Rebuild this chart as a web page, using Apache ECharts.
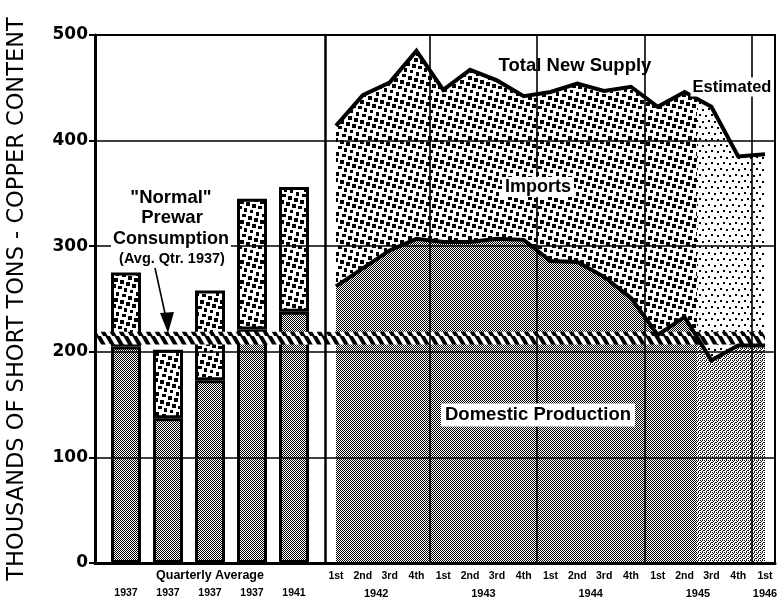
<!DOCTYPE html>
<html><head><meta charset="utf-8">
<script src="https://cdn.jsdelivr.net/npm/echarts/dist/echarts.min.js"></script>
<style>html,body{margin:0;padding:0;background:#fff}#c{width:778px;height:602px}</style>
</head><body><div id="c"></div>
<script>
// ---------------- data ----------------
const barLabels = ['1937', '1937', '1937', '1937', '1941'];
const barGroupLabels = ['', '', 'Quarterly Average', '', ''];
const barDomestic = [205, 137, 173, 221, 238];
const barTotal = [275, 202, 258, 345, 356];

const quarterLabels = ['1st','2nd','3rd','4th','1st','2nd','3rd','4th','1st','2nd','3rd','4th','1st','2nd','3rd','4th','1st'];
const yearLabels = ['1942', '1943', '1944', '1945', '1946'];
const yearLabelPos = [1.5, 5.5, 9.5, 13.5, 16];
const yearBoundaries = [3.5, 7.5, 11.5, 15.5];
const totalSupply = [414, 443, 455, 485, 448, 467, 457, 442, 446, 454, 447, 451, 432, 446, 432, 385, 387];
const domesticProd = [262, 279, 296, 307, 304, 304, 307, 306, 286, 285, 271, 251, 216, 233, 192, 206, 206];
const estimateStart = 13.5;
const prewarConsumption = 213;
const yMin = 0, yMax = 500, yStep = 100;

// ---------------- patterns ----------------
function makePattern(w, h, draw) {
  const c = document.createElement('canvas');
  c.width = w; c.height = h;
  const g = c.getContext('2d');
  g.fillStyle = '#fff'; g.fillRect(0, 0, w, h);
  g.fillStyle = '#000'; g.strokeStyle = '#000';
  draw(g, w, h);
  return { image: c, repeat: 'repeat' };
}
// rotated halftone screen of black squares (lattice (6,2),(-2,6) in a 20px tile)
const importsPat = makePattern(20, 20, g => {
  const seen = {};
  let k = 0;
  for (let m = 0; m < 10; m++) for (let n = 0; n < 10; n++) {
    const x = ((6 * m - 2 * n) % 20 + 20) % 20, y = ((2 * m + 6 * n) % 20 + 20) % 20;
    if (seen[x + ',' + y]) continue;
    seen[x + ',' + y] = 1; k++;
    const w = 4 - (k % 3 === 0 ? 1 : 0), h = 4 - (k % 4 === 2 ? 1 : 0);
    for (let dx = -20; dx <= 20; dx += 20) for (let dy = -20; dy <= 20; dy += 20) g.fillRect(x + dx, y + dy, w, h);
  }
});
const estImportsPat = makePattern(12, 12, g => {
  [[0,0],[6,1],[3,6],[9,7]].forEach(p => g.fillRect(p[0], p[1], 2, 2));
});
const grayPat = makePattern(4, 4, g => {
  g.fillStyle = '#000';
  [[0,0],[2,0],[1,1],[3,1],[0,2],[2,2],[1,3],[3,3]].forEach(p => g.fillRect(p[0], p[1], 1, 1));
});
const estGrayPat = makePattern(4, 4, g => {
  g.fillStyle = '#111';
  [[0,0],[2,0],[1,1],[3,2],[0,2],[2,3]].forEach(p => g.fillRect(p[0], p[1], 1, 1));
});
const hatchPat = makePattern(9, 12, g => {
  g.lineWidth = 4;
  [-9, 0, 9].forEach(o => { g.beginPath(); g.moveTo(o - 1, -1); g.lineTo(o + 7, 13); g.stroke(); });
});

// ---------------- layout ----------------
const TOP = 35, BOTTOM = 39;
const QX0 = 336, QX1 = 765;
const nQ = quarterLabels.length - 1;
const estLeft = QX0 + (estimateStart / nQ) * (QX1 - QX0);
const FONT = 'DejaVu Sans';
const LFONT = 'Liberation Sans';

function hiddenY(gridIndex) {
  return { type: 'value', gridIndex, min: yMin, max: yMax, show: false };
}
function note(text, x, y, size, boxed, pad) {
  const st = { text, x, y, align: 'center', verticalAlign: 'middle',
    font: 'bold ' + size + 'px "Liberation Sans"', fill: '#000' };
  if (boxed) { st.backgroundColor = '#fff'; st.padding = pad || [1, 3]; }
  return { type: 'text', z: 100, style: st };
}

const option = {
  animation: false,
  backgroundColor: '#fff',
  grid: [
    { left: 95, right: 3, top: TOP, bottom: BOTTOM, show: true, borderColor: '#000', borderWidth: 2, backgroundColor: 'transparent', outerBoundsMode: 'none' },
    { left: 105, width: 210, top: TOP, bottom: BOTTOM, outerBoundsMode: 'none' },
    { left: QX0, width: QX1 - QX0, top: TOP, bottom: BOTTOM, outerBoundsMode: 'none' },
    { left: estLeft, width: QX1 - estLeft, top: TOP, bottom: BOTTOM, outerBoundsMode: 'none' },
    { left: 97, width: QX1 - 97, top: TOP, bottom: BOTTOM, outerBoundsMode: 'none' }
  ],
  xAxis: [
    { type: 'value', gridIndex: 0, min: 0, max: 1, z: 8,
      axisLine: { show: true, onZero: false, lineStyle: { color: '#000', width: 3 } },
      axisTick: { show: false }, axisLabel: { show: false }, splitLine: { show: false } },
    { type: 'category', gridIndex: 1, data: barLabels, position: 'bottom',
      axisLine: { show: false }, axisTick: { show: false }, splitLine: { show: false },
      axisLabel: { interval: 0, margin: 4.5, lineHeight: 17, fontFamily: LFONT, fontWeight: 'bold', fontSize: 10.5, color: '#000',
        formatter: (v, i) => (barGroupLabels[i] ? '{q|' + barGroupLabels[i] + '}' : ' ') + '\n' + v,
        rich: { q: { fontFamily: LFONT, fontWeight: 'bold', fontSize: 12.5, lineHeight: 17, color: '#000' } } } },
    { type: 'value', gridIndex: 2, min: 0, max: nQ, interval: 1, position: 'bottom',
      axisLine: { show: false }, axisTick: { show: false }, splitLine: { show: false },
      axisLabel: { margin: 4.5, lineHeight: 17, fontFamily: LFONT, fontWeight: 'bold', fontSize: 10.5, color: '#000',
        showMinLabel: true, showMaxLabel: true,
        formatter: v => quarterLabels[Math.round(v)] || '' } },
    { type: 'value', gridIndex: 2, min: 0, max: nQ, interval: 0.5, position: 'bottom',
      axisLine: { show: false }, axisTick: { show: false }, splitLine: { show: false },
      axisLabel: { margin: 22, lineHeight: 17, fontFamily: LFONT, fontWeight: 'bold', fontSize: 11, color: '#000',
        showMinLabel: true, showMaxLabel: true,
        formatter: v => { const k = yearLabelPos.indexOf(v); return k >= 0 ? yearLabels[k] : ''; } } },
    { type: 'value', gridIndex: 3, min: estimateStart, max: nQ, show: false },
    { type: 'value', gridIndex: 4, min: 0, max: 1, show: false }
  ],
  yAxis: [
    { type: 'value', gridIndex: 0, min: yMin, max: yMax, interval: yStep, z: 8,
      name: 'THOUSANDS OF SHORT TONS - COPPER CONTENT', nameLocation: 'middle', nameGap: 66,
      nameTextStyle: { fontFamily: FONT, fontSize: 22.5, color: '#000' },
      axisLine: { show: true, onZero: false, lineStyle: { color: '#000', width: 3 } },
      axisTick: { show: true, length: 6, lineStyle: { color: '#000', width: 2 } },
      axisLabel: { margin: 7, fontFamily: FONT, fontWeight: 'bold', fontSize: 17, color: '#000' },
      splitLine: { show: true, lineStyle: { color: '#000', width: 1.6 } } },
    hiddenY(1),
    { type: 'value', gridIndex: 2, min: yMin, max: yMax, offset: QX0 - 325, z: 8,
      axisLine: { show: true, onZero: false, lineStyle: { color: '#000', width: 2.5 } },
      axisTick: { show: false }, axisLabel: { show: false }, splitLine: { show: false } },
    hiddenY(3),
    hiddenY(4)
  ],
  series: [
    { name: 'Domestic (bars)', type: 'bar', xAxisIndex: 1, yAxisIndex: 1, stack: 'b', barWidth: 30, z: 3,
      data: barDomestic, itemStyle: { color: grayPat, borderColor: '#000', borderWidth: 3 } },
    { name: 'Imports (bars)', type: 'bar', xAxisIndex: 1, yAxisIndex: 1, stack: 'b', barWidth: 30, z: 3,
      data: barTotal.map((t, i) => t - barDomestic[i]), itemStyle: { color: importsPat, borderColor: '#000', borderWidth: 3 } },

    { name: 'Total area', type: 'line', xAxisIndex: 2, yAxisIndex: 2, z: 2, symbol: 'none',
      data: totalSupply.map((v, i) => [i, v]),
      lineStyle: { width: 0, opacity: 0 }, areaStyle: { color: importsPat, opacity: 1 } },
    { name: 'Domestic area', type: 'line', xAxisIndex: 2, yAxisIndex: 2, z: 3, symbol: 'none',
      data: domesticProd.map((v, i) => [i, v]),
      lineStyle: { width: 0, opacity: 0 }, areaStyle: { color: grayPat, opacity: 1 } },

    { name: 'Total est', type: 'line', xAxisIndex: 4, yAxisIndex: 3, z: 4, symbol: 'none', clip: true,
      data: totalSupply.map((v, i) => [i, v]).filter(p => p[0] >= Math.floor(estimateStart)),
      lineStyle: { width: 0, opacity: 0 }, areaStyle: { color: estImportsPat, opacity: 1 } },
    { name: 'Domestic est', type: 'line', xAxisIndex: 4, yAxisIndex: 3, z: 5, symbol: 'none', clip: true,
      data: domesticProd.map((v, i) => [i, v]).filter(p => p[0] >= Math.floor(estimateStart)),
      lineStyle: { width: 0, opacity: 0 }, areaStyle: { color: estGrayPat, opacity: 1 } },

    { name: 'Prewar', type: 'line', xAxisIndex: 5, yAxisIndex: 4, z: 6, symbol: 'none',
      data: [[0, prewarConsumption], [1, prewarConsumption]],
      lineStyle: { width: 0, opacity: 0 },
      markArea: { silent: true, z: 6, itemStyle: { color: hatchPat, opacity: 1 },
        data: [[{ yAxis: prewarConsumption - 6 }, { yAxis: prewarConsumption + 6 }]] } },

    { name: 'Total New Supply', type: 'line', xAxisIndex: 2, yAxisIndex: 2, z: 7, symbol: 'none',
      data: totalSupply.map((v, i) => [i, v]),
      lineStyle: { color: '#000', width: 4, join: 'miter' },
      markLine: { silent: true, z: 8, symbol: ['none', 'none'], label: { show: false },
        lineStyle: { color: '#000', width: 1.6, type: 'solid' },
        data: yearBoundaries.map(x => ({ xAxis: x })) } },
    { name: 'Domestic Production', type: 'line', xAxisIndex: 2, yAxisIndex: 2, z: 7, symbol: 'none',
      data: domesticProd.map((v, i) => [i, v]),
      lineStyle: { color: '#000', width: 4, join: 'miter' } }
  ],
  graphic: [
    note('Total New Supply', 575, 66, 18.5, false),
    note('Imports', 538, 187, 18, true, [1, 3]),
    note('Domestic Production', 538, 415, 18.5, true, [2, 4]),
    note('Estimated', 732, 87, 16.5, true, [1, 2]),
    note('"Normal"', 171, 198, 18.5, true, [1, 2]),
    note('Prewar', 172, 218, 18.5, true, [1, 2]),
    note('Consumption', 171, 239, 18, true, [1, 2]),
    note('(Avg. Qtr. 1937)', 172, 259, 14.5, true, [1, 2]),
    { type: 'line', z: 100, shape: { x1: 155, y1: 268, x2: 166, y2: 318 }, style: { stroke: '#000', lineWidth: 1.6 } },
    { type: 'polygon', z: 100, shape: { points: [[160, 313], [174, 312], [168, 333]] }, style: { fill: '#000' } }
  ]
};

const chart = echarts.init(document.getElementById('c'), null, { renderer: 'canvas' });
chart.setOption(option);
</script>
</body></html>
